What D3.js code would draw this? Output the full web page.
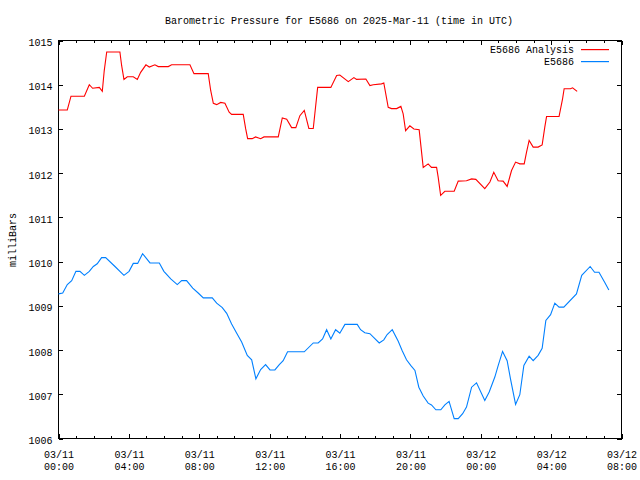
<!DOCTYPE html>
<html><head><meta charset="utf-8">
<script src="https://cdn.jsdelivr.net/npm/d3@7"></script>
<style>
body{margin:0;background:#fff}
text{font-family:"Liberation Mono","DejaVu Sans Mono",monospace;font-size:10px;fill:#000}
</style></head><body>
<svg id="chart" width="640" height="480"></svg>
<script>
const titleText = "Barometric Pressure for E5686 on 2025-Mar-11 (time in UTC)";
const yLabel = "milliBars";
const seriesNames = ["E5686 Analysis", "E5686"];
const seriesColors = ["#ff0000", "#0080ff"];
const yTicks = [1006,1007,1008,1009,1010,1011,1012,1013,1014,1015];
const xTickHours = [0,4,8,12,16,20,24,28,32];

// hours since 2025-03-11 00:00 UTC
const analysisHours = [0,0.50,0.71,1.47,1.75,1.94,2.32,2.49,2.60,2.74,3.49,3.59,3.72,3.91,4.25,4.48,4.67,4.97,5.16,5.48,5.67,6.24,6.43,7.47,7.70,8.51,8.65,8.80,8.99,9.22,9.46,9.70,9.84,10.50,10.64,10.75,11.01,11.20,11.49,11.68,12.49,12.72,12.97,13.25,13.49,13.72,13.97,14.23,14.48,14.73,15.48,15.81,15.99,16.47,16.79,16.94,17.47,17.70,17.89,18.36,18.49,18.74,18.93,19.22,19.46,19.59,19.73,19.97,20.20,20.50,20.73,21.01,21.20,21.49,21.58,21.72,21.96,22.49,22.72,23.19,23.48,23.72,24.23,24.52,24.74,24.99,25.27,25.50,25.75,25.98,26.22,26.47,26.60,26.75,26.98,27.26,27.49,27.64,27.74,28.45,28.65,28.74,29.10,29.22,29.48];
const analysisValues = [1013.43,1013.43,1013.74,1013.74,1014.00,1013.92,1013.94,1013.85,1014.32,1014.74,1014.74,1014.43,1014.12,1014.18,1014.18,1014.12,1014.28,1014.45,1014.40,1014.45,1014.41,1014.41,1014.45,1014.45,1014.25,1014.25,1013.87,1013.58,1013.55,1013.60,1013.58,1013.38,1013.33,1013.33,1013.00,1012.78,1012.78,1012.82,1012.78,1012.82,1012.82,1013.25,1013.22,1013.03,1013.03,1013.30,1013.42,1013.01,1013.01,1013.94,1013.94,1014.21,1014.22,1014.07,1014.16,1014.12,1014.13,1013.98,1014.00,1014.02,1014.04,1013.49,1013.46,1013.46,1013.51,1013.34,1012.96,1013.07,1013.00,1012.98,1012.13,1012.21,1012.13,1012.13,1011.91,1011.50,1011.59,1011.59,1011.82,1011.83,1011.87,1011.86,1011.65,1011.80,1012.02,1011.83,1011.82,1011.70,1012.06,1012.25,1012.21,1012.21,1012.47,1012.74,1012.59,1012.59,1012.64,1013.04,1013.28,1013.28,1013.68,1013.91,1013.91,1013.93,1013.85];

const obsHours = [0,0.24,0.50,0.75,0.99,1.22,1.47,1.75,1.98,2.20,2.45,2.68,3.21,3.72,4.01,4.25,4.50,4.78,5.20,5.73,5.99,6.38,6.75,7.00,7.28,7.63,7.94,8.23,8.74,8.99,9.31,9.56,9.84,10.13,10.41,10.73,10.98,11.22,11.49,11.77,12.02,12.30,12.55,12.77,13.02,13.97,14.48,14.76,15.01,15.24,15.48,15.75,15.99,16.28,16.98,17.17,17.41,17.70,18.23,18.49,18.68,18.97,19.31,19.53,19.78,20.03,20.26,20.48,20.73,21.01,21.20,21.45,21.73,21.96,22.20,22.49,22.72,22.97,23.19,23.48,23.76,24.23,24.48,24.80,24.99,25.24,25.50,25.69,25.98,26.22,26.45,26.75,26.98,27.26,27.49,27.70,27.97,28.21,28.45,28.72,29.44,29.74,30.22,30.47,30.72,31.05,31.28];
const obsValues = [1009.27,1009.29,1009.48,1009.57,1009.78,1009.78,1009.69,1009.78,1009.89,1009.95,1010.09,1010.09,1009.89,1009.69,1009.78,1009.96,1009.96,1010.18,1009.97,1009.97,1009.78,1009.61,1009.48,1009.57,1009.57,1009.40,1009.29,1009.18,1009.18,1009.06,1008.96,1008.83,1008.59,1008.38,1008.18,1007.88,1007.78,1007.35,1007.56,1007.67,1007.55,1007.55,1007.67,1007.76,1007.96,1007.96,1008.16,1008.16,1008.25,1008.46,1008.25,1008.46,1008.38,1008.58,1008.58,1008.46,1008.39,1008.37,1008.16,1008.23,1008.35,1008.46,1008.20,1007.99,1007.78,1007.65,1007.54,1007.16,1006.96,1006.80,1006.76,1006.65,1006.65,1006.76,1006.84,1006.45,1006.45,1006.56,1006.71,1007.16,1007.26,1006.86,1007.05,1007.39,1007.65,1007.97,1007.76,1007.35,1006.77,1006.99,1007.65,1007.86,1007.76,1007.88,1008.04,1008.67,1008.80,1009.06,1008.97,1008.97,1009.27,1009.69,1009.89,1009.76,1009.76,1009.53,1009.36];

const t0 = Date.UTC(2025,2,11,0,0);
const toDate = h => new Date(t0 + h*3600e3);

const L=58.5, R=621.5, T=40.5, B=438.5;
const svg = d3.select("#chart");
const x = d3.scaleUtc().domain([toDate(0), toDate(32)]).range([L, R]);
const y = d3.scaleLinear().domain([1006,1015]).range([B, T]);

// frame
svg.append("rect").attr("x",L).attr("y",T).attr("width",R-L).attr("height",B-T)
  .attr("fill","none").attr("stroke","#000").attr("stroke-width",1).attr("shape-rendering","crispEdges");

const hourTicks = d3.range(0,33).map(toDate);
const majorTicks = xTickHours.map(toDate);
const fmt1 = d3.utcFormat("%m/%d"), fmt2 = d3.utcFormat("%H:%M");

function styleAxis(g){ g.select(".domain").remove(); g.selectAll("line").attr("stroke","#000").attr("shape-rendering","crispEdges"); }

// minor x ticks bottom & top
svg.append("g").attr("transform",`translate(0,${B})`)
  .call(d3.axisBottom(x).tickValues(hourTicks).tickSize(-2.5).tickFormat("")).call(styleAxis);
svg.append("g").attr("transform",`translate(0,${T})`)
  .call(d3.axisTop(x).tickValues(hourTicks).tickSize(-2.5).tickFormat("")).call(styleAxis);
// major x ticks
svg.append("g").attr("transform",`translate(0,${T})`)
  .call(d3.axisTop(x).tickValues(majorTicks).tickSize(-4.5).tickFormat("")).call(styleAxis);
const xb = svg.append("g").attr("transform",`translate(0,${B})`)
  .call(d3.axisBottom(x).tickValues(majorTicks).tickSize(-4.5).tickPadding(0).tickFormat(fmt1)).call(styleAxis);
xb.selectAll("text").each(function(d){
  const t = d3.select(this).text("").attr("y",null).attr("dy",null)
    .attr("font-family",null).attr("font-size",null).attr("fill",null);
  t.append("tspan").attr("x",0).attr("y",19.5).text(fmt1(d));
  t.append("tspan").attr("x",0).attr("y",31.5).text(fmt2(d));
});

// y ticks left & right
const yl = svg.append("g").attr("transform",`translate(${L},0)`)
  .call(d3.axisLeft(y).tickValues(yTicks).tickSize(-4.5).tickPadding(6).tickFormat(d3.format("d"))).call(styleAxis);
yl.selectAll("text").attr("font-family",null).attr("font-size",null).attr("fill",null).attr("dy","0.5em");
svg.append("g").attr("transform",`translate(${R},0)`)
  .call(d3.axisRight(y).tickValues(yTicks).tickSize(-4.5).tickFormat("")).call(styleAxis);

// title & y label
svg.append("text").attr("x",339).attr("y",24).attr("text-anchor","middle").text(titleText);
svg.append("text").attr("transform","translate(16,240) rotate(-90)").attr("text-anchor","middle").text(yLabel);

// lines
const line = d3.line().x(d=>x(d[0])).y(d=>y(d[1]));
const series = [
  analysisHours.map((h,i)=>[toDate(h), analysisValues[i]]),
  obsHours.map((h,i)=>[toDate(h), obsValues[i]])
];
series.forEach((s,i)=>{
  svg.append("path").datum(s).attr("d",line).attr("fill","none")
    .style("stroke",seriesColors[i]).attr("stroke-width",1.1);
});

// legend
const legend = svg.append("g").attr("class","legend");
seriesNames.forEach((n,i)=>{
  const ly = 49 + i*12;
  legend.append("text").attr("x",574).attr("y",ly+4).attr("text-anchor","end").text(n);
  legend.append("rect").attr("x",581).attr("y",ly).attr("width",28).attr("height",1.2)
    .style("fill",seriesColors[i]);
});
</script></body></html>
